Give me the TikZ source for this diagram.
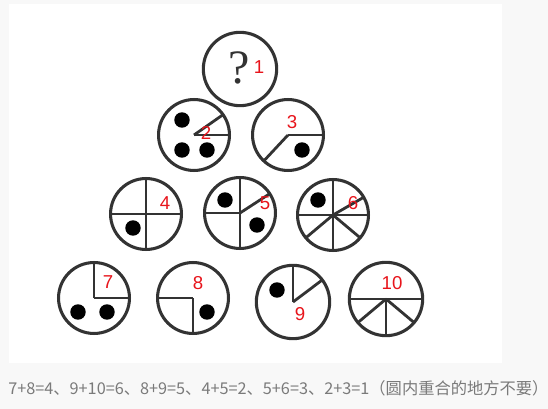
\documentclass[tikz,border=0pt]{standalone}
\usepackage{fontspec}
\usetikzlibrary{calc}
\newfontfamily\labfont{Liberation Sans}
\newfontfamily\qfont{Liberation Serif}
\newfontfamily\cjk{Noto Sans CJK SC}
\definecolor{inkc}{HTML}{333333}
\definecolor{labred}{HTML}{E8141B}
\definecolor{capgray}{HTML}{7A7A7A}
\definecolor{bggray}{HTML}{F8F8F8}
\begin{document}
\begin{tikzpicture}[x=0.75pt,y=-0.75pt,
  ring/.style={draw=inkc, line width=2.3pt},
  seg/.style={draw=inkc, line width=2.1pt},
  blob/.style={fill=black, draw=none},
  lab/.style={text=labred, font=\labfont\fontsize{14}{14}\selectfont, inner sep=0pt}]
\useasboundingbox (0,0) rectangle (548,409);
\fill[bggray] (0,0) rectangle (548,409);
\fill[white] (9,4) rectangle (502,363);
% centres
\coordinate (c1) at (240,69);
\coordinate (c2) at (194,135);
\coordinate (c3) at (288,135);
\coordinate (c4) at (146,214);
\coordinate (c5) at (240,213);
\coordinate (c6) at (333,215);
\coordinate (c7) at (94,298);
\coordinate (c8) at (193,298);
\coordinate (c9) at (293,302);
\coordinate (c10) at (386,299);
% circle 1
\draw[ring] (c1) circle[radius=27.5pt];
\node[text=inkc, font=\qfont\fontsize{36}{36}\selectfont, inner sep=0pt] (q) at ($(c1)+(-1,-1)$) {?};
\node[lab] (l1) at (259,67) {1};
% circle 2
\draw[ring] (c2) circle[radius=26.6pt];
\draw[seg] (c2) -- ++(0:26.6pt);
\draw[seg] (c2) -- ++(35:26.6pt);
\fill[blob] ($(c2)+(-12,-15)$) circle[radius=5.8pt];
\fill[blob] ($(c2)+(-12,15)$) circle[radius=5.8pt];
\fill[blob] ($(c2)+(13,15)$) circle[radius=5.8pt];
\node[lab] (l2) at (206,133) {2};
% circle 3
\draw[ring] (c3) circle[radius=26.6pt];
\draw[seg] (c3) -- ++(0:26.6pt);
\draw[seg] (c3) -- ++(227:26.6pt);
\fill[blob] ($(c3)+(14,15)$) circle[radius=5.8pt];
\node[lab] (l3) at (292,122) {3};
% circle 4
\draw[ring] (c4) circle[radius=26.6pt];
\draw[seg] ($(c4)+(-35.5,0)$) -- ($(c4)+(35.5,0)$);
\draw[seg] ($(c4)+(0,-35.5)$) -- ($(c4)+(0,35.5)$);
\fill[blob] ($(c4)+(-13,14)$) circle[radius=5.8pt];
\node[lab] (l4) at (165,203) {4};
% circle 5
\draw[ring] (c5) circle[radius=26.6pt];
\draw[seg] (c5) -- ++(180:26.6pt);
\draw[seg] ($(c5)+(0,-35.5)$) -- ($(c5)+(0,35.5)$);
\draw[seg] (c5) -- ++(33:26.6pt);
\fill[blob] ($(c5)+(-15,-13)$) circle[radius=5.8pt];
\fill[blob] ($(c5)+(17,12)$) circle[radius=5.8pt];
\node[lab] (l5) at (265,203) {5};
% circle 6
\draw[ring] (c6) circle[radius=26.6pt];
\draw[seg] ($(c6)+(-35.5,0)$) -- ($(c6)+(35.5,0)$);
\draw[seg] ($(c6)+(0,-35.5)$) -- ($(c6)+(0,35.5)$);
\draw[seg] (c6) -- ++(30:26.6pt);
\draw[seg] (c6) -- ++(220:26.6pt);
\draw[seg] (c6) -- ++(320:26.6pt);
\fill[blob] ($(c6)+(-15,-15)$) circle[radius=5.8pt];
\node[lab] (l6) at (353,203) {6};
% circle 7
\draw[ring] (c7) circle[radius=26.6pt];
\draw[seg] (c7) -- ++(90:26.6pt);
\draw[seg] (c7) -- ++(0:26.6pt);
\fill[blob] ($(c7)+(-16,14)$) circle[radius=5.8pt];
\fill[blob] ($(c7)+(13,14)$) circle[radius=5.8pt];
\node[lab] (l7) at (108,282) {7};
% circle 8
\draw[ring] (c8) circle[radius=26.6pt];
\draw[seg] (c8) -- ++(180:26.6pt);
\draw[seg] (c8) -- ++(270:26.6pt);
\fill[blob] ($(c8)+(14,14)$) circle[radius=5.8pt];
\node[lab] (l8) at (198,283) {8};
% circle 9
\draw[ring] (c9) circle[radius=27.5pt];
\draw[seg] (c9) -- ++(90:27.5pt);
\draw[seg] (c9) -- ++(37:27.5pt);
\fill[blob] ($(c9)+(-16,-12)$) circle[radius=5.8pt];
\node[lab] (l9) at (300,314) {9};
% circle 10
\draw[ring] (c10) circle[radius=27.5pt];
\draw[seg] ($(c10)+(-36.7,0)$) -- ($(c10)+(36.7,0)$);
\draw[seg] (c10) -- ++(270:27.5pt);
\draw[seg] (c10) -- ++(220:27.5pt);
\draw[seg] (c10) -- ++(320:27.5pt);
\node[lab] (l10) at (392,283) {10};
% caption
\node[anchor=west, inner sep=0pt, text=capgray, font=\cjk\fontsize{12.2}{12.2}\selectfont] (cap) at (8,388)
  {7+8=4、9+10=6、8+9=5、4+5=2、5+6=3、2+3=1（圆内重合的地方不要）};
\end{tikzpicture}
\end{document}
